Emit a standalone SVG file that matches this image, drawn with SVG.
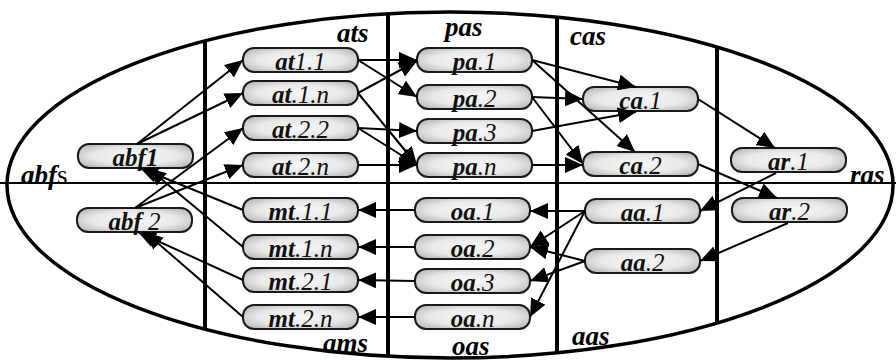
<svg xmlns="http://www.w3.org/2000/svg" width="896" height="360" viewBox="0 0 896 360">
<style>
.frame{fill:none;stroke:#000;stroke-width:3.5}
.div{stroke:#000;stroke-width:4}
.hl{stroke:#000;stroke-width:2}
.nd{fill:url(#pill);stroke:#1a1a1a;stroke-width:2}
text{font-family:'Liberation Serif','Times New Roman','DejaVu Serif',serif}
.t{font-style:italic;font-size:25px;text-anchor:middle;fill:#111}
.b{font-weight:bold}
.lb{font-style:italic;font-weight:bold;font-size:27px;fill:#000}
.cn line{stroke:#000;stroke-width:2;marker-end:url(#ah)}
</style>
<defs>
<radialGradient id="pill" cx="0.5" cy="0.5" r="0.62">
<stop offset="0" stop-color="#f7f7f7"/>
<stop offset="0.6" stop-color="#e8e8e8"/>
<stop offset="1" stop-color="#b8b8b8"/>
</radialGradient>
<marker id="ah" markerUnits="userSpaceOnUse" markerWidth="18" markerHeight="16" viewBox="0 0 18 16" refX="18" refY="8" orient="auto">
<path d="M0,0 L18,8 L0,16 z" fill="#000"/>
</marker>
</defs>
<rect width="896" height="360" fill="#fff"/>
<g id="frame">
<ellipse class="frame" cx="450" cy="185" rx="443" ry="173"/>
<line class="hl" x1="0" y1="183" x2="896" y2="183"/>
<line class="div" x1="205" y1="41" x2="205" y2="329"/>
<line class="div" x1="388" y1="13" x2="388" y2="357"/>
<line class="div" x1="557" y1="17" x2="557" y2="353"/>
<line class="div" x1="717" y1="47" x2="717" y2="323"/>
</g>
<g id="labels">
<text class="lb" x="21" y="184">abf<tspan font-weight="normal" font-style="normal">s</tspan></text>
<text class="lb" x="337" y="42">ats</text>
<text class="lb" x="445" y="36">pas</text>
<text class="lb" x="570" y="45">cas</text>
<text class="lb" x="850" y="184">ras</text>
<text class="lb" x="323" y="352">ams</text>
<text class="lb" x="452" y="355">oas</text>
<text class="lb" x="572" y="345">aas</text>
</g>
<g id="abf1"><rect class="nd" x="78" y="144" width="115" height="24" rx="11"/><text class="t" x="135.5" y="166"><tspan class="b">abf1</tspan></text></g>
<g id="abf2"><rect class="nd" x="77" y="208" width="115" height="24" rx="11"/><text class="t" x="134.5" y="230"><tspan class="b">abf</tspan> 2</text></g>
<g id="at11"><rect class="nd" x="243" y="48" width="115" height="24" rx="11"/><text class="t" x="300.5" y="70"><tspan class="b">at</tspan>1.1</text></g>
<g id="at1n"><rect class="nd" x="243" y="81" width="115" height="24" rx="11"/><text class="t" x="300.5" y="103"><tspan class="b">at</tspan>.1.n</text></g>
<g id="at22"><rect class="nd" x="243" y="116" width="115" height="24" rx="11"/><text class="t" x="300.5" y="138"><tspan class="b">at</tspan>.2.2</text></g>
<g id="at2n"><rect class="nd" x="243" y="153" width="115" height="24" rx="11"/><text class="t" x="300.5" y="175"><tspan class="b">at</tspan>.2.n</text></g>
<g id="mt11"><rect class="nd" x="243" y="198" width="115" height="24" rx="11"/><text class="t" x="300.5" y="220"><tspan class="b">mt</tspan>.1.1</text></g>
<g id="mt1n"><rect class="nd" x="243" y="235" width="115" height="24" rx="11"/><text class="t" x="300.5" y="257"><tspan class="b">mt</tspan>.1.n</text></g>
<g id="mt21"><rect class="nd" x="243" y="268" width="115" height="24" rx="11"/><text class="t" x="300.5" y="290"><tspan class="b">mt</tspan>.2.1</text></g>
<g id="mt2n"><rect class="nd" x="243" y="305" width="115" height="24" rx="11"/><text class="t" x="300.5" y="327"><tspan class="b">mt</tspan>.2.n</text></g>
<g id="pa1"><rect class="nd" x="417" y="48" width="115" height="24" rx="11"/><text class="t" x="474.5" y="70"><tspan class="b">pa</tspan>.1</text></g>
<g id="pa2"><rect class="nd" x="417" y="85" width="115" height="24" rx="11"/><text class="t" x="474.5" y="107"><tspan class="b">pa</tspan>.2</text></g>
<g id="pa3"><rect class="nd" x="417" y="119" width="115" height="24" rx="11"/><text class="t" x="474.5" y="141"><tspan class="b">pa</tspan>.3</text></g>
<g id="pan"><rect class="nd" x="417" y="153" width="115" height="24" rx="11"/><text class="t" x="474.5" y="175"><tspan class="b">pa</tspan>.n</text></g>
<g id="oa1"><rect class="nd" x="415" y="198" width="115" height="24" rx="11"/><text class="t" x="472.5" y="220"><tspan class="b">oa</tspan>.1</text></g>
<g id="oa2"><rect class="nd" x="415" y="235" width="115" height="24" rx="11"/><text class="t" x="472.5" y="257"><tspan class="b">oa</tspan>.2</text></g>
<g id="oa3"><rect class="nd" x="415" y="269" width="115" height="24" rx="11"/><text class="t" x="472.5" y="291"><tspan class="b">oa</tspan>.3</text></g>
<g id="oan"><rect class="nd" x="415" y="305" width="115" height="24" rx="11"/><text class="t" x="472.5" y="327"><tspan class="b">oa</tspan>.n</text></g>
<g id="ca1"><rect class="nd" x="583" y="87" width="115" height="24" rx="11"/><text class="t" x="640.5" y="109"><tspan class="b">ca</tspan>.1</text></g>
<g id="ca2"><rect class="nd" x="583" y="152" width="115" height="24" rx="11"/><text class="t" x="640.5" y="174"><tspan class="b">ca</tspan>.2</text></g>
<g id="aa1"><rect class="nd" x="585" y="199" width="115" height="24" rx="11"/><text class="t" x="642.5" y="221"><tspan class="b">aa</tspan>.1</text></g>
<g id="aa2"><rect class="nd" x="585" y="249" width="115" height="24" rx="11"/><text class="t" x="642.5" y="271"><tspan class="b">aa</tspan>.2</text></g>
<g id="ar1"><rect class="nd" x="731" y="148" width="115" height="24" rx="11"/><text class="t" x="788.5" y="170"><tspan class="b">ar</tspan>.1</text></g>
<g id="ar2"><rect class="nd" x="732" y="198" width="115" height="24" rx="11"/><text class="t" x="789.5" y="220"><tspan class="b">ar</tspan>.2</text></g>
<g id="connectors" class="cn">
<line x1="137" y1="144" x2="243" y2="60"/>
<line x1="137" y1="144" x2="243" y2="93"/>
<line x1="135" y1="208" x2="243" y2="128"/>
<line x1="135" y1="208" x2="243" y2="165"/>
<line x1="243" y1="210" x2="140" y2="168"/>
<line x1="243" y1="247" x2="148" y2="168"/>
<line x1="243" y1="280" x2="138" y2="232"/>
<line x1="243" y1="317" x2="145" y2="232"/>
<line x1="358" y1="60" x2="417" y2="60"/>
<line x1="358" y1="60" x2="417" y2="97"/>
<line x1="358" y1="93" x2="417" y2="61"/>
<line x1="358" y1="93" x2="417" y2="165"/>
<line x1="358" y1="128" x2="417" y2="131"/>
<line x1="358" y1="128" x2="417" y2="165"/>
<line x1="358" y1="165" x2="417" y2="165"/>
<line x1="532" y1="60" x2="636" y2="87"/>
<line x1="532" y1="60" x2="635" y2="152"/>
<line x1="532" y1="97" x2="583" y2="99"/>
<line x1="532" y1="97" x2="583" y2="164"/>
<line x1="532" y1="131" x2="636" y2="112"/>
<line x1="532" y1="165" x2="583" y2="165"/>
<line x1="698" y1="99" x2="775" y2="148"/>
<line x1="698" y1="164" x2="777" y2="198"/>
<line x1="776" y1="173" x2="700" y2="211"/>
<line x1="788" y1="223" x2="700" y2="261"/>
<line x1="585" y1="211" x2="530" y2="211"/>
<line x1="585" y1="211" x2="530" y2="247"/>
<line x1="585" y1="211" x2="530" y2="317"/>
<line x1="585" y1="261" x2="530" y2="247"/>
<line x1="585" y1="261" x2="530" y2="281"/>
<line x1="415" y1="210" x2="358" y2="210"/>
<line x1="415" y1="247" x2="358" y2="247"/>
<line x1="415" y1="281" x2="358" y2="280"/>
<line x1="415" y1="317" x2="358" y2="317"/>
</g>
</svg>
